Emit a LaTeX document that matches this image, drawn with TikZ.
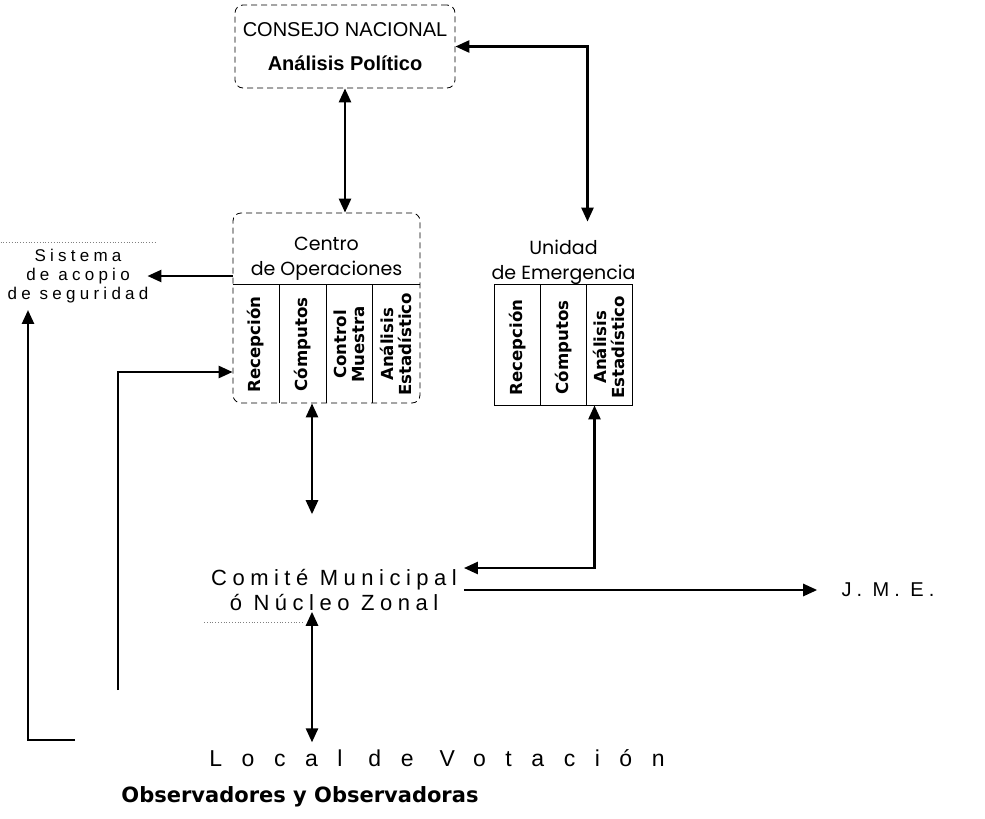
\documentclass[tikz,border=0pt]{standalone}
\usepackage{fontspec}
\setmainfont{Liberation Sans}
\newfontfamily\gotica{Poppins}
\newfontfamily\ancha{DejaVu Sans}
\newfontfamily\espaciada[LetterSpace=25]{Liberation Sans}
\newfontfamily\muyespaciada[LetterSpace=85]{Liberation Sans}
\usetikzlibrary{arrows.meta, calc, positioning}
\tikzset{
  >={Triangle[length=7pt,width=6pt]},
  flecha/.style={draw,->,line width=1.3pt},
  dflecha/.style={draw,<->,line width=1.3pt},
  caja/.style={draw,densely dashed,thin,rounded corners=4pt},
  tenue/.style={draw,densely dotted,thin,gray},
  titulo/.style={font=\gotica\fontsize{9.5}{12.5}\selectfont,align=center},
  columna/.style={rotate=90,font=\ancha\bfseries\fontsize{8.3}{9}\selectfont,
    align=center,inner sep=0pt},
  espaciado/.style={align=center,font=\espaciada\fontsize{11}{12.5}\selectfont}
}

\begin{document}
\begin{tikzpicture}[x=0.5pt,y=-0.5pt]
  \useasboundingbox (0,0) rectangle (985,819);

  % Consejo
  \node[caja,minimum width=110pt,minimum height=41.5pt,align=center,
    font=\fontsize{10}{12}\selectfont] at (345,46.5) (consejo)
    {CONSEJO NACIONAL\\[5pt]\textbf{Análisis Político}};

  % Centro de Operaciones
  \node[caja,minimum width=93.5pt,minimum height=95pt] at (326.5,308) (centro){};
  \node[titulo] at (326.5,259) (centrotit){Centro\\de Operaciones};
  \draw[thin] ($(centro.north west)+(0,72)$) -- ($(centro.north east)+(0,72)$);
  \foreach \i in {1,2,3}
  {
    \draw[thin] ($(centro.north west)+(\i*46.75,72)$) -- ($(centro.south west)+(\i*46.75,0)$);
  }
  \foreach \lab [count=\i] in {Recepción,Cómputos,{Control\\Muestra},{Análisis\\Estadístico}}
  {
    \node[columna] at ($(centro.south west)+(\i*46.75-23.4,-59)$) {\lab};
  }

  % Unidad de Emergencia
  \node[minimum width=68.5pt,minimum height=91.5pt,inner sep=0pt] at (563.5,313.5) (unidad){};
  \node[titulo] at (563.5,262) (unidadtit){Unidad\\de Emergencia};
  \draw[thin] ($(unidad.north west)+(0,63)$) rectangle (unidad.south east);
  \foreach \i in {1,2}
  {
    \draw[thin] ($(unidad.north west)+(\i*45.7,63)$) -- ($(unidad.south west)+(\i*45.7,0)$);
  }
  \foreach \lab [count=\i] in {Recepción,Cómputos,{Análisis\\Estadístico}}
  {
    \node[columna] at ($(unidad.south west)+(\i*45.7-22.8,-58)$) {\lab};
  }

  % Sistema de acopio
  \node[align=center,font=\espaciada\fontsize{8.5}{9.5}\selectfont] at (78,276) (sistema)
    {Sistema\\de acopio\\de seguridad};
  \draw[tenue] (sistema.north west) -- (sistema.north east);

  % Comite, Local, JME
  \node[espaciado] at (334,590) (comite){Comité Municipal\\ó Núcleo Zonal};
  \draw[tenue] ($(comite.south west)+(0,5)$) -- ($(comite.south west)+(100,5)$);
  \node[font=\muyespaciada\fontsize{11.5}{13}\selectfont] at (437,758) (local){Local de Votación};
  \node[font=\ancha\bfseries\fontsize{10.5}{12}\selectfont] at (300,797) (obs)
    {Observadores y Observadoras};
  \node[font=\espaciada\fontsize{10}{12}\selectfont,inner xsep=12pt] at (888,590) (jme){J. M. E.};

  % conectores
  \coordinate (eje) at (312,0);
  \coordinate (pie) at (118,690);
  \coordinate (esquina) at (75,740);
  \draw[dflecha] (consejo.south) -- (consejo.south |- centro.north);
  \draw[dflecha] (consejo.east) -| ($(unidad.north)+(24,0)$);
  \draw[flecha] (centro.west |- sistema.east) -- ($(sistema.east)+(-8,0)$);
  \draw[flecha] (esquina) -| ($(sistema.south)+(-50,0)$);
  \draw[flecha] (pie) |- ($(centro.west)+(0,64)$);
  \draw[dflecha,shorten >=24pt] (centro.south -| eje) -- (comite.north -| eje);
  \draw[dflecha,shorten <=-3pt] (comite.south -| eje) -- (local.north -| eje);
  \draw[dflecha] ($(unidad.south)+(31,0)$) |- ($(comite.east)+(0,-22)$);
  \draw[flecha] (comite.east) -- (comite.east -| jme.west);
\end{tikzpicture}
\end{document}
